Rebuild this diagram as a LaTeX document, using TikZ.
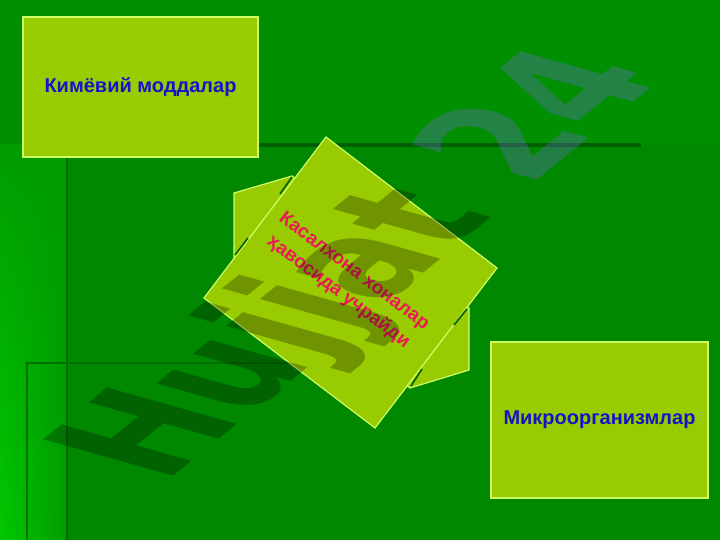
\documentclass[tikz,border=0pt]{standalone}
\usepackage{fontspec}
\setmainfont{Liberation Sans}
\newfontfamily\markfont{DejaVu Sans}
\usetikzlibrary{positioning,shadings}

\definecolor{topgreen}{RGB}{0,143,0}
\definecolor{slidegreen}{RGB}{0,137,0}
\definecolor{leftgreen}{RGB}{0,156,0}
\definecolor{brightgreen}{RGB}{0,200,0}
\definecolor{slitgreen}{RGB}{0,95,0}
\definecolor{boxfill}{RGB}{153,204,0}
\definecolor{boxedge}{RGB}{204,255,102}
\definecolor{labelblue}{RGB}{20,20,200}
\definecolor{labelred}{RGB}{235,25,85}
\definecolor{numbergray}{RGB}{130,100,255}

\tikzset{
  box/.style={draw=boxedge, fill=boxfill, line width=1.2pt, inner sep=0pt,
    text=labelblue, font=\bfseries\fontsize{20}{24}\selectfont},
  patch/.style={draw=boxedge, fill=boxfill, line width=1.2pt, line join=miter},
  notch/.style={draw=slitgreen, line width=1.6pt},
}

\begin{document}
\begin{tikzpicture}[x=1pt,y=-1pt]
  \useasboundingbox (0,0) rectangle (720,540);
  % background of the slide
  \fill[topgreen] (0,0) rectangle (720,540);
  \shade[lower left=brightgreen, upper left=leftgreen, lower right=leftgreen, upper right=leftgreen]
    (0,145) rectangle (67,540);
  \fill[slidegreen] (67,145) rectangle (720,540);
  \draw[slitgreen, line width=4pt] (258,145) -- (641,145);
  \draw[slitgreen!70!slidegreen, line width=1.5pt] (67,157) -- (67,540);
  \draw[slitgreen!60!slidegreen, line width=1.2pt] (25,363) -- (290,363);
  \draw[slitgreen!60!slidegreen, line width=1.2pt] (27,363) -- (27,540);

  % the two boxes
  \node[box, minimum width=235pt, minimum height=140pt] (kimyo) at (140.5,87) {Кимёвий моддалар};
  \node[box, minimum width=217pt, minimum height=156pt] (mikro) at (599.5,420) {Микроорганизмлар};

  % shape in the middle
  \coordinate (top) at (326,137);
  \coordinate (right) at (497,268);
  \coordinate (bottom) at (375,428);
  \coordinate (left) at (204,298);
  \draw[patch] (234,258) -- (234,193) -- (292,176) -- (469,308) -- (469,370) -- (410,388) -- cycle;
  \draw[patch] (top) -- (right) -- (bottom) -- (left) -- cycle;
  \draw[notch] (292,177) -- (280,194);
  \draw[notch] (248,238) -- (235,255);
  \draw[notch] (467,309) -- (454,325);
  \draw[notch] (422,369) -- (411,386);

  \node[rotate=-37, text=labelred, font=\bfseries\fontsize{19}{26}\selectfont, align=center]
    (kasal) at (346,282) {Касалхона хоналар\\ҳавосида учрайди};

  % watermark
  \node[cm={0.977,0.794,-1.78,0.50,(0,0)}, anchor=base, inner sep=0pt,
    font=\markfont\bfseries\fontsize{100}{100}\selectfont, text=black, text opacity=0.27]
    (watermark) at (415,280) {Hujjat \textcolor{numbergray}{24}};
\end{tikzpicture}
\end{document}
